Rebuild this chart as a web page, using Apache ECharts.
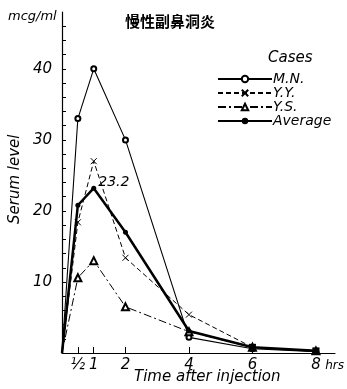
<!DOCTYPE html>
<html><head><meta charset="utf-8">
<script src="https://cdn.jsdelivr.net/npm/echarts@6/dist/echarts.min.js"></script>
<style>html,body{margin:0;padding:0;background:#fff}#c{width:347px;height:389px}</style>
</head><body><div id="c"></div>
<script>
const hours = [0, 0.5, 1, 2, 4, 6, 8];
const mn = [0, 33, 40, 30, 2.2, 0.6, 0.2];
const yy = [0, 18.4, 27, 13.4, 5.4, 0.8, 0.2];
const ys = [0, 10.6, 13, 6.5, 3, 0.8, 0.3];
const avg = [0, 20.8, 23.2, 17, 3.1, 0.8, 0.3];
const xTicks = [0.5, 1, 2, 4, 6, 8];
const yLabels = [10, 20, 30, 40];
const yMinor = [2,4,6,8,12,14,16,18,22,24,26,28,32,34,36,38,42,44,46];
const names = ['M.N.', 'Y.Y.', 'Y.S.', 'Average'];

const FONT = 'DejaVu Sans';
function pts(arr, labelIdx, bigTail) {
  return arr.map((v, i) => {
    const d = {value: [hours[i], v]};
    if (i === 0) d.symbol = 'none';
    if (bigTail && i >= 5) { d.symbol = 'rect'; d.symbolSize = 7; }
    if (labelIdx === i) d.label = {show: true, position: 'right', distance: 2, offset: [0, -6],
      formatter: String(v), fontStyle: 'italic', fontFamily: FONT, fontSize: 14, color: '#000'};
    return d;
  });
}
const chart = echarts.init(document.getElementById('c'));
chart.setOption({
  animation: false,
  backgroundColor: '#fff',
  grid: {left: 62, right: 7, top: 12, bottom: 36},
  title: {text: '慢性副鼻洞炎', left: 120, top: 9,
    textStyle: {fontFamily: 'Noto Sans CJK JP', fontSize: 15, fontWeight: 'bold', color: '#000'}},
  legend: {
    orient: 'vertical', left: 212, top: 67, itemWidth: 54, itemHeight: 8, itemGap: 0,
    data: names,
    textStyle: {fontFamily: FONT, fontStyle: 'italic', fontSize: 14, color: '#000', lineHeight: 13, padding: [0,0,0,-4]}
  },
  graphic: [
    {type: 'text', left: 268, top: 51, style: {text: 'Cases', font: 'italic 15px "DejaVu Sans"', fill: '#000'}},
    {type: 'text', left: 8, top: 10, style: {text: 'mcg/ml', font: 'italic 13px "DejaVu Sans"', fill: '#000'}},
    {type: 'text', x: 8, y: 224, rotation: Math.PI / 2, style: {text: 'Serum level', font: 'italic 15px "DejaVu Sans"', fill: '#000'}},
    {type: 'text', left: 134, top: 370, style: {text: 'Time after injection', font: 'italic 15px "DejaVu Sans"', fill: '#000'}}
  ],
  xAxis: {
    type: 'value', min: 0, max: 8.6,
    axisLine: {lineStyle: {color: '#000', width: 1.2}},
    splitLine: {show: false},
    axisTick: {show: true, inside: true, length: 6, customValues: xTicks, lineStyle: {color: '#000'}},
    axisLabel: {customValues: xTicks, margin: 5, color: '#000', fontFamily: FONT, fontStyle: 'italic', fontSize: 15,
      formatter: v => v === 0.5 ? '½' : (v === 8 ? '{p|}8{h| hrs}' : String(v)),
      rich: {p: {width: 24}, h: {width: 24, fontSize: 12, fontStyle: 'italic', fontFamily: FONT, color: '#000', align: 'left'}}}
  },
  yAxis: {
    type: 'value', min: 0, max: 48,
    axisLine: {show: true, lineStyle: {color: '#000', width: 1.2}},
    splitLine: {show: false},
    axisTick: {show: true, inside: true, length: 4, customValues: yMinor.concat(yLabels), lineStyle: {color: '#000'}},
    axisLabel: {customValues: yLabels, margin: 10, color: '#000', fontFamily: FONT, fontStyle: 'italic', fontSize: 15}
  },
  series: [
    {name: names[0], type: 'line', data: pts(mn), symbol: 'emptyCircle', symbolSize: 5,
      lineStyle: {color: '#000', width: 1.1}, itemStyle: {color: '#000', borderWidth: 1}},
    {name: names[1], type: 'line', data: pts(yy), symbol: 'path://M0,0L10,10M10,0L0,10', symbolSize: 6,
      lineStyle: {color: '#000', width: 1, type: [5, 3]}, itemStyle: {color: '#000', borderColor: '#000', borderWidth: 1}},
    {name: names[2], type: 'line', data: pts(ys), symbol: 'emptyTriangle', symbolSize: 7,
      lineStyle: {color: '#000', width: 1, type: [8, 3, 2, 3]}, itemStyle: {color: '#000', borderWidth: 1}},
    {name: names[3], type: 'line', data: pts(avg, 2, true), symbol: 'circle', symbolSize: 5,
      lineStyle: {color: '#000', width: 2.5}, itemStyle: {color: '#000'}}
  ]
});
</script></body></html>
